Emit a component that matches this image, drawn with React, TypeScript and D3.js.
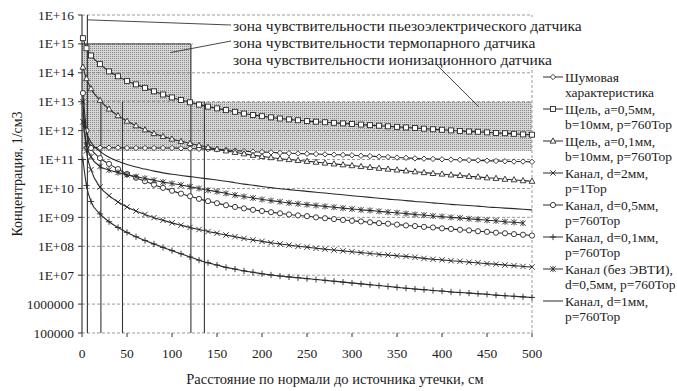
import React from "react";
import * as d3 from "d3";

const width = 677;
const height = 391;
const margin = { top: 15, right: 145, bottom: 58, left: 82 };
const font = "'Liberation Serif', 'Times New Roman', serif";
const ink = "#1c1c1c";

// distance from the leak, cm
const distances = [1, 5, 10, 20, 30, 40, 50, 60, 70, 80, 90, 100, 110, 120, 130, 140, 150, 160, 170, 180, 190, 200, 210, 220, 230, 240, 250, 260, 270, 280, 290, 300, 310, 320, 330, 340, 350, 360, 370, 380, 390, 400, 410, 420, 430, 440, 450, 460, 470, 480, 490, 500];

// concentration, 1/cm3
const noise = [null, 2.63e11, 2.63e11, 2.57e11, 2.57e11, 2.57e11, 2.51e11, 2.51e11, 2.51e11, 2.51e11, 2.51e11, 2.51e11, 2.45e11, 2.4e11, 2.34e11, 2.29e11, 2.24e11, 2.14e11, 2.04e11, 1.95e11, 1.86e11, 1.82e11, 1.78e11, 1.7e11, 1.66e11, 1.62e11, 1.58e11, 1.55e11, 1.51e11, 1.48e11, 1.45e11, 1.41e11, 1.35e11, 1.32e11, 1.26e11, 1.23e11, 1.17e11, 1.15e11, 1.1e11, 1.07e11, 1.05e11, 1.02e11, 1.0e11, 9.77e10, 9.55e10, 9.33e10, 9.12e10, 8.91e10, 8.71e10, 8.51e10, 8.51e10, 8.32e10];
const slot05 = [1.58e15, 7.08e14, 3.98e14, 2.0e14, 1.12e14, 7.59e13, 5.25e13, 3.98e13, 3.02e13, 2.29e13, 1.78e13, 1.41e13, 1.15e13, 9.55e12, 7.94e12, 6.76e12, 5.89e12, 5.13e12, 4.47e12, 3.89e12, 3.47e12, 3.16e12, 2.88e12, 2.63e12, 2.45e12, 2.29e12, 2.14e12, 2.04e12, 1.95e12, 1.86e12, 1.78e12, 1.7e12, 1.62e12, 1.55e12, 1.48e12, 1.41e12, 1.35e12, 1.29e12, 1.23e12, 1.17e12, 1.12e12, 1.07e12, 1.02e12, 9.77e11, 9.33e11, 9.12e11, 8.71e11, 8.32e11, 8.13e11, 7.76e11, 7.41e11, 7.24e11];
const slot01 = [1.58e14, 6.31e13, 2.82e13, 1.12e13, 5.62e12, 3.31e12, 2.14e12, 1.48e12, 1.07e12, 7.94e11, 6.31e11, 5.13e11, 4.27e11, 3.63e11, 3.09e11, 2.63e11, 2.29e11, 2.0e11, 1.78e11, 1.58e11, 1.41e11, 1.29e11, 1.17e11, 1.07e11, 1.0e11, 9.33e10, 8.71e10, 8.13e10, 7.59e10, 7.08e10, 6.61e10, 6.17e10, 5.75e10, 5.37e10, 5.01e10, 4.68e10, 4.37e10, 4.07e10, 3.8e10, 3.55e10, 3.31e10, 3.16e10, 2.95e10, 2.82e10, 2.63e10, 2.51e10, 2.34e10, 2.24e10, 2.09e10, 2.0e10, 1.86e10, 1.78e10];
const channel2 = [1e13, 2.0e11, 4.47e10, 1.12e10, 5.62e9, 3.39e9, 2.29e9, 1.66e9, 1.26e9, 9.77e8, 7.94e8, 6.46e8, 5.37e8, 4.47e8, 3.8e8, 3.24e8, 2.82e8, 2.45e8, 2.14e8, 1.86e8, 1.66e8, 1.48e8, 1.32e8, 1.2e8, 1.1e8, 1.0e8, 9.33e7, 8.51e7, 7.94e7, 7.41e7, 6.92e7, 6.46e7, 6.03e7, 5.62e7, 5.25e7, 5.01e7, 4.68e7, 4.47e7, 4.17e7, 3.8e7, 3.55e7, 3.39e7, 3.16e7, 3.02e7, 2.82e7, 2.69e7, 2.51e7, 2.4e7, 2.24e7, 2.14e7, 2.0e7, 1.91e7];
const channel05 = [2.0e13, 1.0e12, 2.51e11, 1.12e11, 7.08e10, 4.68e10, 3.16e10, 2.34e10, 1.78e10, 1.35e10, 1.05e10, 8.32e9, 6.61e9, 5.37e9, 4.37e9, 3.63e9, 3.09e9, 2.63e9, 2.29e9, 2.04e9, 1.82e9, 1.66e9, 1.51e9, 1.38e9, 1.26e9, 1.17e9, 1.1e9, 1.0e9, 9.33e8, 8.71e8, 8.13e8, 7.59e8, 7.24e8, 6.76e8, 6.31e8, 6.03e8, 5.62e8, 5.25e8, 5.01e8, 4.68e8, 4.47e8, 4.17e8, 3.98e8, 3.72e8, 3.55e8, 3.31e8, 3.16e8, 2.95e8, 2.82e8, 2.63e8, 2.51e8, 2.34e8];
const channel01 = [1e11, 1.26e10, 3.55e9, 1.32e9, 7.08e8, 4.47e8, 3.02e8, 2.14e8, 1.58e8, 1.2e8, 9.12e7, 7.08e7, 5.5e7, 4.27e7, 3.31e7, 2.69e7, 2.24e7, 1.86e7, 1.62e7, 1.41e7, 1.26e7, 1.12e7, 1.02e7, 9.33e6, 8.71e6, 8.13e6, 7.59e6, 7.08e6, 6.61e6, 6.17e6, 5.75e6, 5.37e6, 5.01e6, 4.68e6, 4.37e6, 4.07e6, 3.8e6, 3.55e6, 3.31e6, 3.16e6, 2.95e6, 2.82e6, 2.63e6, 2.51e6, 2.4e6, 2.29e6, 2.19e6, 2.04e6, 1.95e6, 1.86e6, 1.78e6, 1.7e6];
const channelNoEvti = [2.0e12, 3.16e11, 1.26e11, 5.75e10, 4.37e10, 3.55e10, 2.95e10, 2.57e10, 2.24e10, 1.91e10, 1.66e10, 1.48e10, 1.32e10, 1.15e10, 1.0e10, 8.71e9, 7.76e9, 6.76e9, 5.89e9, 5.25e9, 4.68e9, 4.17e9, 3.8e9, 3.47e9, 3.16e9, 2.95e9, 2.75e9, 2.57e9, 2.4e9, 2.24e9, 2.09e9, 1.95e9, 1.82e9, 1.74e9, 1.62e9, 1.51e9, 1.45e9, 1.35e9, 1.26e9, 1.2e9, 1.12e9, 1.07e9, 1.0e9, 9.55e8, 8.91e8, 8.51e8, 7.94e8, 7.59e8, 7.08e8, 6.76e8, 6.31e8, null];
const channel1 = [3.98e12, 8.91e11, 3.98e11, 1.91e11, 1.2e11, 8.71e10, 6.76e10, 5.5e10, 4.68e10, 3.98e10, 3.47e10, 3.09e10, 2.82e10, 2.57e10, 2.34e10, 2.14e10, 1.95e10, 1.78e10, 1.58e10, 1.41e10, 1.29e10, 1.17e10, 1.07e10, 9.77e9, 9.12e9, 8.51e9, 7.94e9, 7.41e9, 6.92e9, 6.46e9, 6.03e9, 5.62e9, 5.25e9, 4.9e9, 4.57e9, 4.27e9, 4.07e9, 3.8e9, 3.55e9, 3.39e9, 3.16e9, 3.02e9, 2.82e9, 2.69e9, 2.57e9, 2.45e9, 2.29e9, 2.19e9, 2.09e9, 2.0e9, 1.91e9, 1.82e9];

const seriesValues = [noise, slot05, slot01, channel2, channel05, channel01, channelNoEvti, channel1];
const seriesMarkers = ["diamond", "square", "triangle", "cross", "circle", "plus", "asterisk", "none"];
const seriesLabels = [
  ["Шумовая", "характеристика"],
  ["Щель, а=0,5мм,", "b=10мм, p=760Тор"],
  ["Щель, а=0,1мм,", "b=10мм, p=760Тор"],
  ["Канал, d=2мм,", "p=1Тор"],
  ["Канал, d=0,5мм,", "p=760Тор"],
  ["Канал, d=0,1мм,", "p=760Тор"],
  ["Канал (без ЭВТИ),", "d=0,5мм, p=760Тор"],
  ["Канал, d=1мм,", "p=760Тор"],
];

const yTicks = [1e5, 1e6, 1e7, 1e8, 1e9, 1e10, 1e11, 1e12, 1e13, 1e14, 1e15, 1e16];
const yTickLabels = ["100000", "1000000", "1E+07", "1E+08", "1E+09", "1E+10", "1E+11", "1E+12", "1E+13", "1E+14", "1E+15", "1E+16"];
const xTicks = [0, 50, 100, 150, 200, 250, 300, 350, 400, 450, 500];

// sensor zones (distance, concentration)
const zoneLabels = [
  "зона чувствительности пьезоэлектрического датчика",
  "зона чувствительности термопарного датчика",
  "зона чувствительности ионизационного датчика",
];
const thermoZone = { x0: 0, x1: 121, top: 1e15, bottom: 2e11 };
const ionZone = { x0: 0, x1: 500, top: 1e13, bottom: 2e11 };
const zoneAnchors = [
  { x: 6, y: 6.8e15 },
  { x: 98, y: 5e14 },
  { x: 441, y: 6.6e12 },
];
const boundaryLines = [
  { x: 6, top: 1e16 },
  { x: 21, top: 1e13 },
  { x: 45, top: 1e13 },
  { x: 121, top: 1e15 },
  { x: 136, top: 1e13 },
];

const Marker = ({ type, cx, cy }) => {
  const common = { stroke: "#2a2a2a", strokeWidth: 0.9, fill: "white" };
  const t = `translate(${cx},${cy})`;
  switch (type) {
    case "diamond":
      return <path transform={t} d="M0,-2.7L2.7,0L0,2.7L-2.7,0Z" {...common} />;
    case "square":
      return <rect x={cx - 2.5} y={cy - 2.5} width={5} height={5} {...common} />;
    case "triangle":
      return <path transform={t} d="M0,-3.1L2.9,2.1L-2.9,2.1Z" {...common} />;
    case "cross":
      return <path transform={t} d="M-2.7,-2.7L2.7,2.7M-2.7,2.7L2.7,-2.7" {...common} fill="none" />;
    case "circle":
      return <circle cx={cx} cy={cy} r={2.6} {...common} />;
    case "plus":
      return <path transform={t} d="M-3.1,0L3.1,0M0,-3.1L0,3.1" {...common} fill="none" />;
    case "asterisk":
      return <path transform={t} d="M-2.7,-2.7L2.7,2.7M-2.7,2.7L2.7,-2.7M0,-3.1L0,3.1" {...common} fill="none" />;
    default:
      return null;
  }
};

export default function App() {
  const x = d3.scaleLinear().domain([0, 500]).range([margin.left, width - margin.right]);
  const y = d3.scaleLog().domain([1e5, 1e16]).range([height - margin.bottom, margin.top]);
  const [x0, x1] = x.range();
  const [yBottom, yTop] = y.range();

  const line = d3
    .line<number | null>()
    .defined((d) => d !== null)
    .x((_, i) => x(distances[i]))
    .y((d) => y(d as number))
    .curve(d3.curveMonotoneX);

  const labelLeft = 233;
  const labelRows = [25, 42, 59];
  const legendX = 543;
  const legendRows = seriesLabels.map((_, i) => 77 + i * 32);

  return (
    <div style={{ position: "absolute", left: 0, top: 0 }}>
      <svg width={width} height={height} style={{ display: "block", background: "white" }}>
        <defs>
          <pattern id="stipple" width={2} height={2} patternUnits="userSpaceOnUse">
            <rect width={2} height={2} fill="#d6d6d6" />
            <rect width={1} height={1} fill="#8a8a8a" />
          </pattern>
        </defs>

        {/* shaded sensor zones */}
        <rect
          x={x(thermoZone.x0)}
          y={y(thermoZone.top)}
          width={x(thermoZone.x1) - x(thermoZone.x0)}
          height={y(thermoZone.bottom) - y(thermoZone.top)}
          fill="url(#stipple)"
        />
        <rect
          x={x(ionZone.x0)}
          y={y(ionZone.top)}
          width={x(ionZone.x1) - x(ionZone.x0)}
          height={y(ionZone.bottom) - y(ionZone.top)}
          fill="url(#stipple)"
        />

        {/* grid */}
        {yTicks.map((t) => (
          <line key={t} x1={x0} x2={x1} y1={y(t)} y2={y(t)} stroke="#808080" strokeWidth={0.8} strokeDasharray="3,2" />
        ))}
        <line x1={x1} x2={x1} y1={yTop} y2={yBottom} stroke="#808080" strokeWidth={0.8} strokeDasharray="3,2" />
        <line x1={x(thermoZone.x0)} x2={x(thermoZone.x1)} y1={y(thermoZone.top)} y2={y(thermoZone.top)} stroke="#444" strokeWidth={1} />

        {boundaryLines.map((b) => (
          <line key={b.x} x1={x(b.x)} x2={x(b.x)} y1={y(b.top)} y2={yBottom} stroke="#353535" strokeWidth={1.1} />
        ))}

        {/* label box for zone names */}
        <rect x={x(thermoZone.x1) + 2} y={17} width={400} height={50} fill="white" />

        {/* axes */}
        <line x1={x0} x2={x0} y1={yTop} y2={yBottom} stroke="#2a2a2a" strokeWidth={1.1} />
        {yTicks.map((t, i) => (
          <g key={t}>
            <line x1={x0 - 4} x2={x0} y1={y(t)} y2={y(t)} stroke="#333" />
            <text x={x0 - 8} y={y(t)} textAnchor="end" dominantBaseline="central" fontSize={13.5} fontFamily={font} fill={ink}>
              {yTickLabels[i]}
            </text>
          </g>
        ))}
        {xTicks.map((t) => (
          <g key={t}>
            <line x1={x(t)} x2={x(t)} y1={yBottom} y2={yBottom + 4} stroke="#333" />
            <text x={x(t)} y={yBottom + 20} textAnchor="middle" dominantBaseline="central" fontSize={13.5} fontFamily={font} fill={ink}>
              {t}
            </text>
          </g>
        ))}

        {/* series */}
        {seriesValues.map((vals, si) => (
          <g key={si}>
            <path d={line(vals) || ""} fill="none" stroke="#2a2a2a" strokeWidth={1.1} />
            {vals.map((v, i) =>
              v === null ? null : <Marker key={i} type={seriesMarkers[si]} cx={x(distances[i])} cy={y(v)} />
            )}
          </g>
        ))}

        {/* zone labels with leaders */}
        {zoneLabels.map((label, i) => (
          <text key={label} x={labelLeft} y={labelRows[i]} dominantBaseline="central" fontSize={15.5} fontFamily={font} fill={ink}>
            {label}
          </text>
        ))}
        <line x1={x(zoneAnchors[0].x)} y1={y(zoneAnchors[0].y)} x2={labelLeft - 2} y2={labelRows[0]} stroke="#333" strokeWidth={0.9} />
        <line x1={x(zoneAnchors[1].x)} y1={y(zoneAnchors[1].y)} x2={labelLeft - 2} y2={labelRows[1] - 1} stroke="#333" strokeWidth={0.9} />
        <line x1={x(zoneAnchors[2].x)} y1={y(zoneAnchors[2].y)} x2={437} y2={labelRows[2] + 6} stroke="#333" strokeWidth={0.9} />

        {/* legend */}
        {seriesLabels.map((lines, i) => (
          <g key={i}>
            <line x1={legendX} x2={legendX + 20} y1={legendRows[i]} y2={legendRows[i]} stroke="#2a2a2a" strokeWidth={1} />
            <Marker type={seriesMarkers[i]} cx={legendX + 10} cy={legendRows[i]} />
            <text x={legendX + 22} y={legendRows[i]} dominantBaseline="central" fontSize={13.5} fontFamily={font} fill={ink}>
              {lines[0]}
            </text>
            <text x={legendX + 22} y={legendRows[i] + 15} dominantBaseline="central" fontSize={13.5} fontFamily={font} fill={ink}>
              {lines[1]}
            </text>
          </g>
        ))}

        {/* axis titles */}
        <text
          transform={`translate(17,${(yTop + yBottom) / 2}) rotate(-90)`}
          textAnchor="middle"
          dominantBaseline="central"
          fontSize={14}
          fontFamily={font}
          fill={ink}
        >
          Концентрация, 1/см3
        </text>
        <text x={335} y={379} textAnchor="middle" dominantBaseline="central" fontSize={14.5} fontFamily={font} fill={ink}>
          Расстояние по нормали до источника утечки, см
        </text>
      </svg>
    </div>
  );
}
